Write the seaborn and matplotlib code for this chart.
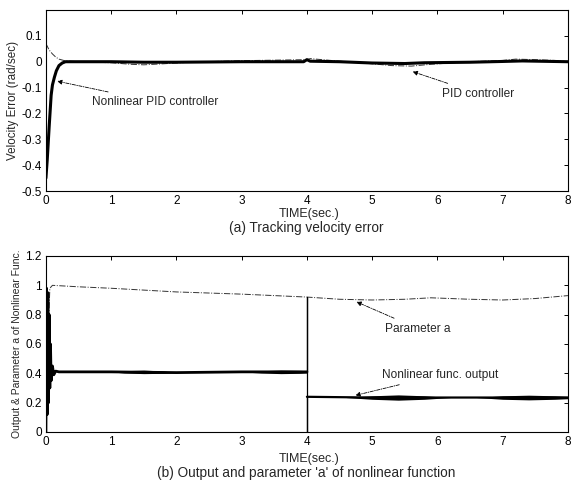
import matplotlib
matplotlib.use("Agg")
import matplotlib.pyplot as plt
import seaborn as sns
import pandas as pd

sns.set_theme(style="white")
plt.rcParams['font.family'] = ['Liberation Sans', 'DejaVu Sans']

# ---- (a) tracking velocity error ----
t_nlpid = [0, 0.02, 0.05, 0.08, 0.1, 0.13, 0.16, 0.2, 0.25, 0.3, 0.4, 1.0, 1.5, 2.0, 3.0, 3.95, 4.0, 4.05, 4.5, 5.0, 5.5, 5.8, 6.5, 7.0, 7.3, 8.0]
e_nlpid = [-0.45, -0.38, -0.25, -0.13, -0.09, -0.06, -0.035, -0.015, -0.005, 0.0, 0.0, 0.0, -0.002, -0.002, 0.0, 0.0, 0.008, 0.002, 0.0, -0.005, -0.007, -0.004, -0.002, 0.001, 0.003, 0.0]

t_pid = [0, 0.05, 0.1, 0.15, 0.2, 0.3, 0.5, 1.0, 1.3, 1.5, 1.8, 2.2, 3.0, 3.5, 4.0, 4.05, 4.5, 5.0, 5.3, 5.6, 5.9, 6.5, 7.0, 7.2, 7.5, 7.8, 8.0]
e_pid = [0.07, 0.045, 0.03, 0.018, 0.01, 0.003, 0.0, -0.004, -0.01, -0.012, -0.008, -0.002, 0.004, 0.006, 0.008, 0.012, 0.002, -0.008, -0.015, -0.017, -0.01, 0.0, 0.005, 0.01, 0.008, 0.005, 0.0]

# ---- (b) output and parameter a ----
t_a = [0, 0.03, 0.06, 0.1, 0.5, 1.0, 2.0, 3.0, 4.0, 4.5, 5.0, 5.5, 5.9, 6.5, 7.0, 7.5, 8.0]
a_val = [0.0, 0.6, 0.98, 1.0, 0.99, 0.98, 0.955, 0.94, 0.92, 0.905, 0.9, 0.905, 0.915, 0.905, 0.9, 0.91, 0.93]

# nonlinear function output: first half, switching jump at t=4, second half
t_out1 = [0, 0.01, 0.02, 0.03, 0.04, 0.05, 0.06, 0.07, 0.08, 0.1, 0.12, 0.15, 0.2, 1.0, 2.0, 3.0, 4.0]
y_out1 = [0.0, 0.98, 0.12, 0.95, 0.2, 0.8, 0.3, 0.6, 0.35, 0.45, 0.39, 0.415, 0.41, 0.41, 0.405, 0.41, 0.41]
t_jump = [4.0, 4.0, 4.0, 4.0]
y_jump = [0.41, 0.92, 0.0, 0.24]
t_out2 = [4.0, 5.0, 6.0, 7.0, 8.0]
y_out2 = [0.24, 0.235, 0.235, 0.235, 0.235]

# oscillation envelopes of the output
band_t = [[1.0, 1.2, 1.5, 1.8, 2.0], [3.0, 3.3, 3.6, 3.9, 4.0], [4.6, 5.0, 5.4, 5.8, 6.2], [6.6, 7.0, 7.4, 7.8, 8.0]]
band_mid = [[0.41, 0.41, 0.41, 0.408, 0.405], [0.41, 0.41, 0.41, 0.41, 0.41], [0.235, 0.235, 0.235, 0.235, 0.235], [0.235, 0.235, 0.235, 0.235, 0.235]]
band_half = [[0.0, 0.008, 0.012, 0.008, 0.0], [0.0, 0.008, 0.012, 0.01, 0.008], [0.0, 0.012, 0.018, 0.012, 0.0], [0.0, 0.012, 0.016, 0.012, 0.008]]

fig = plt.figure(figsize=(5.74, 4.87), dpi=100)
ax1 = fig.add_axes([0.080, 1 - 191 / 487, 0.9094, 181 / 487])
ax2 = fig.add_axes([0.080, 1 - 432 / 487, 0.9094, 176 / 487])

def line(ax, t, y, **kw):
    sns.lineplot(data=pd.DataFrame({"t": t, "y": y}), x="t", y="y", ax=ax,
                 estimator=None, sort=False, **kw)

line(ax1, t_pid, e_pid, color="#333333", lw=0.7, ls="-.")
line(ax1, t_nlpid, e_nlpid, color="black", lw=2.2)

line(ax2, t_a, a_val, color="#333333", lw=0.7, ls="-.")
line(ax2, t_out1, y_out1, color="black", lw=2.0)
line(ax2, t_jump, y_jump, color="black", lw=0.9)
line(ax2, t_out2, y_out2, color="black", lw=1.6)
for bt, bm, bh in zip(band_t, band_mid, band_half):
    lo = [m - h for m, h in zip(bm, bh)]
    hi = [m + h for m, h in zip(bm, bh)]
    ax2.fill_between(bt, lo, hi, color="black", lw=0)

fs = 8.5
for ax in (ax1, ax2):
    ax.set_xlim(0, 8)
    ax.set_xticks(range(0, 9))
    ax.tick_params(direction="in", top=True, right=True, labelsize=fs, length=3, width=0.7, pad=3, colors="black")
    for s in ax.spines.values():
        s.set_color("black")
        s.set_linewidth(0.8)
    ax.set_xlabel("TIME(sec.)", fontsize=9.0)
ax1.xaxis.set_label_coords(0.505, -0.092)
ax2.xaxis.set_label_coords(0.505, -0.118)

ax1.set_ylim(-0.5, 0.2)
ax1.set_yticks([-0.5, -0.4, -0.3, -0.2, -0.1, 0, 0.1])
ax1.set_yticklabels(["-0.5", "-0.4", "-0.3", "-0.2", "-0.1", "0", "0.1"])
ax1.set_ylabel("Velocity Error (rad/sec)", fontsize=8.4, labelpad=2)

ax2.set_ylim(0, 1.2)
ax2.set_yticks([0, 0.2, 0.4, 0.6, 0.8, 1.0, 1.2])
ax2.set_yticklabels(["0", "0.2", "0.4", "0.6", "0.8", "1", "1.2"])
ax2.set_ylabel("Output & Parameter a of Nonlinear Func.", fontsize=7.5, labelpad=2)

afs = 8.6
arrow = dict(arrowstyle="-|>", color="black", lw=0.6, linestyle=(0, (4, 1.5, 1, 1.5)), mutation_scale=7)
ax1.annotate("Nonlinear PID controller", xy=(0.13, -0.073), xytext=(0.7, -0.155),
             fontsize=afs, va="center", ha="left", arrowprops=arrow)
ax1.annotate("PID controller", xy=(5.58, -0.035), xytext=(6.07, -0.123),
             fontsize=afs, va="center", ha="left", arrowprops=arrow)
ax2.annotate("Parameter a", xy=(4.72, 0.895), xytext=(5.2, 0.705),
             fontsize=afs, va="center", ha="left", arrowprops=arrow)
ax2.annotate("Nonlinear func. output", xy=(4.7, 0.245), xytext=(5.15, 0.39),
             fontsize=afs, va="center", ha="left", arrowprops=arrow)

fig.text(306 / 574, 1 - 228 / 487, "(a) Tracking velocity error", fontsize=9.8, ha="center", va="center")
fig.text(306 / 574, 1 - 473 / 487, "(b) Output and parameter 'a' of nonlinear function", fontsize=9.8, ha="center", va="center")

fig.savefig("out.png", dpi=100)
